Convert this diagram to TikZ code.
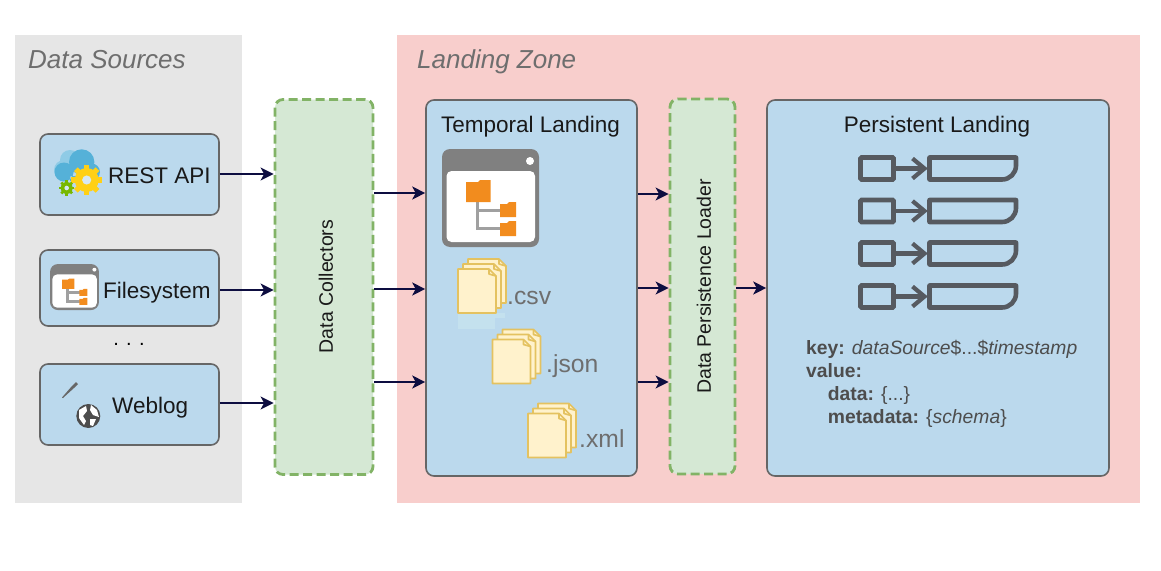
\documentclass[tikz,border=0pt]{standalone}
\usepackage{fontspec}
\setmainfont{Liberation Sans}
\usepackage{xcolor}
\usepackage{tikz}
\usetikzlibrary{arrows.meta, positioning, calc}
\definecolor{zoneGrey}{RGB}{230,230,230}
\definecolor{zonePink}{RGB}{248,206,204}
\definecolor{boxBlue}{RGB}{187,217,237}
\definecolor{borderGrey}{RGB}{102,102,102}
\definecolor{stepGreen}{RGB}{213,232,212}
\definecolor{stepBorder}{RGB}{130,179,102}
\definecolor{flowNavy}{RGB}{13,13,64}
\definecolor{mutedText}{RGB}{110,110,110}
\definecolor{keyText}{RGB}{77,77,77}
\definecolor{iconGrey}{RGB}{128,128,128}
\definecolor{iconLine}{RGB}{160,160,160}
\definecolor{iconOrange}{RGB}{242,140,30}
\definecolor{kvGrey}{RGB}{86,90,96}
\definecolor{docFill}{RGB}{255,242,204}
\definecolor{docBorder}{RGB}{228,194,96}
\definecolor{docGhost}{RGB}{196,225,238}
\definecolor{cloudLight}{RGB}{143,203,230}
\definecolor{cloudDark}{RGB}{85,177,216}
\definecolor{gearYellow}{RGB}{255,208,22}
\definecolor{gearGreen}{RGB}{120,184,0}
\tikzset{
    zone/.style={rectangle, fill=#1, minimum height=468pt, inner sep=0pt},
    comp/.style={rectangle, rounded corners=8pt, draw=borderGrey, fill=boxBlue, line width=1.6pt,
                 minimum width=#1, inner sep=0pt},
    stepbox/.style={rectangle, rounded corners=8pt, draw=stepBorder, fill=stepGreen, line width=2.8pt,
                    dash pattern=on 9pt off 4.5pt, minimum height=375pt, minimum width=#1, inner sep=0pt},
    flow/.style={-{Stealth[length=13pt, width=13pt, inset=3.5pt]}, line width=1.8pt, flowNavy},
    zonetxt/.style={font=\fontsize{26}{30}\selectfont\itshape, text=mutedText, anchor=base west, inner sep=0pt},
    lbl/.style={font=\fontsize{22.5}{26}\selectfont, text=black!90, anchor=base west, inner sep=0pt},
    steptxt/.style={font=\fontsize{19.5}{23}\selectfont, text=black!90, rotate=90, inner sep=0pt},
    extlbl/.style={font=\fontsize{24.7}{28}\selectfont, text=mutedText, anchor=base west, inner sep=0pt},
    pics/folders/.style={code={
        \fill[rounded corners=8pt, iconGrey] (0,0) rectangle (97,98);
        \fill[rounded corners=5pt, white] (4.5,22) rectangle (93,93);
        \fill[white] (88,12) circle (4);
        \draw[iconLine, line width=3pt] (35,50) -- (35,79) -- (60,79) (35,61) -- (60,61);
        \fill[iconOrange] (24,33) -- (36,33) -- (38,31) -- (48.5,31) -- (48.5,53) -- (24,53) -- cycle;
        \fill[iconOrange] (58,55) -- (65,55) -- (67,53) -- (74,53) -- (74,68) -- (58,68) -- cycle;
        \fill[iconOrange] (58,74) -- (65,74) -- (67,72) -- (74,72) -- (74,87) -- (58,87) -- cycle;
    }},
    pics/docsheet/.style={code={
        \draw[docBorder, fill=docFill, line width=1.7pt, line join=round]
            (0,0) -- (31,0) -- (38,7) -- (38,44) -- (0,44) -- cycle;
        \draw[docBorder, line width=1.7pt, line join=round] (31,0) -- (31,5) -- (38,7);
    }},
    pics/docstack/.style={code={
        \pic at (10,-10) {docsheet};
        \pic at (5,-5) {docsheet};
        \pic at (0,0) {docsheet};
    }},
    pics/kvpair/.style={code={
        \draw[kvGrey, line width=4.6pt, rounded corners=1pt] (2,2) rectangle (35,24);
        \draw[kvGrey, line width=4.6pt, line join=round] (71,2) -- (157.5,2) -- (157.5,10)
            arc[start angle=0, end angle=-90, radius=14pt] -- (71,24) -- cycle;
        \draw[kvGrey, line width=4.2pt] (35,13) -- (65,13);
        \draw[kvGrey, line width=4.2pt] (54,3) -- (66,13) -- (54,23);
    }},
    pics/gear/.style n args={3}{code={
        \fill[#1] (0,0) circle (#2);
        \foreach \a in {0,45,...,315}
            \fill[#1, rotate=\a] (-0.22*#2,-1.27*#2) rectangle (0.22*#2,0);
        \fill[#3] (0,0) circle (0.38*#2);
    }}
}
\begin{document}
\begin{tikzpicture}[x=1pt, y=-1pt]
    \useasboundingbox (0,0) rectangle (1161,570);
    \fill[white] (0,0) rectangle (1161,570);

    % Zones
    \node[zone=zoneGrey, minimum width=227pt] (sources) at (128.5,269) {};
    \node[zone=zonePink, minimum width=743pt] (landing) at (768.5,269) {};
    \node[zonetxt] (sourcestxt) at (28,68) {Data Sources};
    \node[zonetxt] (landingtxt) at (417,68) {Landing Zone};

    % Sources
    \node[comp=179pt, minimum height=81pt] (rest) at (129.5,174.5) {};
    \node[comp=179pt, minimum height=76pt, below=33.4pt of rest] (filesystem) {};
    \node[comp=179pt, minimum height=81pt, below=36.4pt of filesystem] (weblog) {};
    \node[lbl] (resttxt) at (108,183.5) {REST API};
    \node[lbl] (filesystemtxt) at (103,298) {Filesystem};
    \node[lbl] (weblogtxt) at (112,413) {Weblog};
    \node[font=\fontsize{20}{24}\selectfont, inner sep=0pt] (dots) at (129,344) {. . .};

    % Steps and landing boxes
    \node[stepbox=98pt] (collectors) at (324,287) {};
    \node[comp=211pt, minimum height=376pt] (temporal) at (531.5,288) {};
    \node[stepbox=65pt] (loader) at (702.5,286.5) {};
    \node[comp=342pt, minimum height=376pt] (persistent) at (938,288) {};
    \node[steptxt] (collectorstxt) at (326,286.5) {Data Collectors};
    \node[steptxt] (loadertxt) at (704,286.5) {Data Persistence Loader};
    \node[lbl, anchor=base] (temporaltxt) at (530.5,132) {Temporal Landing};
    \node[lbl, anchor=base] (persistenttxt) at (937,132) {Persistent Landing};

    % REST API icon
    \fill[cloudLight] (70,160) circle (10) (64,170) circle (10);
    \fill[cloudDark] (81.7,162) circle (12.7) (64,172) circle (9.5) (91.5,172) circle (8.5) (70,176) rectangle (95,181);
    \pic at (86.7,180) {gear={gearYellow}{12}{boxBlue!60!white}};
    \pic at (66.7,188) {gear={gearGreen}{6}{boxBlue!60!white}};

    % Filesystem icons
    \pic[xscale=0.505, yscale=0.47] at (50,264) {folders};
    \pic at (442,149) {folders};

    % Weblog icon
    \fill[iconGrey!80!black] (62,397.5) -- (72,386) -- (76,382) -- (78,384) -- (74,388) -- (63,398) -- cycle;
    \fill[keyText] (88.3,416) circle (12);
    \fill[white] (79,410) -- (86,406) -- (87,411) -- (83,416) -- (86,421) -- (84,425) -- (79,418) -- cycle;
    \fill[white] (91,405) -- (97,410) -- (99,417) -- (93,415) -- (90,410) -- cycle;
    \fill[white] (90,419) -- (96,419) -- (93,426) -- (90,425) -- cycle;

    % Files
    \fill[docGhost] (458,313.5) rectangle (495,329);
    \fill[docGhost] (495,313) rectangle (505,318);
    \pic (csvdocs) at (458,269) {docstack};
    \pic (jsondocs) at (492.5,339.5) {docstack};
    \pic (xmldocs) at (528,413.5) {docstack};
    \node[extlbl] (csvtxt) at (507,304.5) {.csv};
    \node[extlbl] (jsontxt) at (546,372.5) {.json};
    \node[extlbl] (xmltxt) at (579,447) {.xml};

    % Key-value pairs
    \foreach \y in {155.5,198,240.5,283.5}
        \pic at (858.5,\y) {kvpair};
    \node[font=\fontsize{19.3}{23}\selectfont, text=keyText, align=left, anchor=north west, inner sep=0pt]
        (kvtxt) at (806,340) {\textbf{key:} \textit{dataSource}\$...\$\textit{timestamp}\\
        \textbf{value:}\\
        \hspace*{21.7pt}\textbf{data:} \{...\}\\
        \hspace*{21.7pt}\textbf{metadata:} \{\textit{schema}\}};

    % Flows
    \draw[flow] ([yshift=0.5pt]rest.east) -- ([yshift=0.5pt]rest.east -| collectors.west);
    \draw[flow] ([yshift=-2pt]filesystem.east) -- ([yshift=-2pt]filesystem.east -| collectors.west);
    \draw[flow] ([yshift=1.5pt]weblog.east) -- ([yshift=1.5pt]weblog.east -| collectors.west);
    \draw[flow] ([yshift=94pt]collectors.east) -- ([yshift=95pt]temporal.west);
    \draw[flow] ([yshift=-2pt]collectors.east) -- ([yshift=-1pt]temporal.west);
    \draw[flow] ([yshift=-95pt]collectors.east) -- ([yshift=-94pt]temporal.west);
    \draw[flow] ([yshift=94pt]temporal.east) -- ([yshift=92.5pt]loader.west);
    \draw[flow] (temporal.east) -- ([yshift=-1.5pt]loader.west);
    \draw[flow] ([yshift=-94pt]temporal.east) -- ([yshift=-95.5pt]loader.west);
    \draw[flow] ([yshift=-1.5pt]loader.east) -- (persistent.west);
\end{tikzpicture}
\end{document}
